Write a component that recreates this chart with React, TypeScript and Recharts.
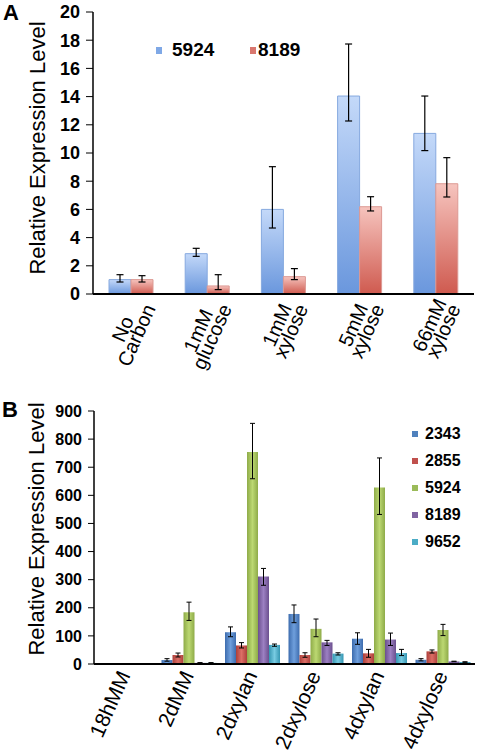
import React from 'react';
import { BarChart, Bar, XAxis, YAxis, ErrorBar, Legend } from 'recharts';

const FONT = '"Liberation Sans", Arial, Helvetica, sans-serif';

// ---- Panel A: two genes across carbon sources ----
const carbonSources = ['No\nCarbon', '1mM\nglucose', '1mM\nxylose', '5mM\nxylose', '66mM\nxylose'];
const a5924 = [1.02, 2.86, 6.0, 14.04, 11.39];
const a5924Low = [0.85, 2.67, 4.68, 12.27, 10.17];
const a5924High = [1.37, 3.24, 9.03, 17.73, 14.04];
const a8189 = [1.02, 0.57, 1.23, 6.19, 7.82];
const a8189Low = [0.85, 0.31, 1.02, 5.89, 6.88];
const a8189High = [1.3, 1.37, 1.8, 6.9, 9.67];
const aTicks = [0, 2, 4, 6, 8, 10, 12, 14, 16, 18, 20];

// ---- Panel B: five genes across time points ----
const timepoints = ['18hMM', '2dMM', '2dxylan', '2dxylose', '4dxylan', '4dxylose'];
const b2343 = [1, 14, 113, 178, 90, 15];
const b2343Low = [1, 10, 97, 147, 70, 11];
const b2343High = [1, 19, 132, 210, 111, 19];
const b2855 = [1, 32, 66, 32, 38, 45];
const b2855Low = [1, 25, 57, 24, 24, 39];
const b2855High = [1, 39, 76, 40, 52, 50];
const b5924 = [1, 184, 754, 125, 628, 121];
const b5924Low = [1, 155, 659, 97, 532, 101];
const b5924High = [1, 220, 856, 160, 733, 141];
const b8189 = [1, 4, 311, 77, 87, 9];
const b8189Low = [1, 3, 280, 66, 66, 8];
const b8189High = [1, 5, 340, 84, 110, 10];
const b9652 = [1, 4, 68, 37, 39, 7];
const b9652Low = [1, 3, 63, 32, 30, 6];
const b9652High = [1, 5, 71, 40, 52, 8];
const bTicks = [0, 100, 200, 300, 400, 500, 600, 700, 800, 900];

const err = (v: number, lo: number, hi: number) => [Math.max(0, v - lo), Math.max(0, hi - v)];

const dataA = carbonSources.map((cat, i) => ({
  cat,
  g5924: a5924[i],
  e5924: err(a5924[i], a5924Low[i], a5924High[i]),
  g8189: a8189[i],
  e8189: err(a8189[i], a8189Low[i], a8189High[i]),
}));

const seriesB = [
  { key: '2343', v: b2343, lo: b2343Low, hi: b2343High, dark: '#3d6cae', light: '#6f9fdc', swatch: '#4f81bd' },
  { key: '2855', v: b2855, lo: b2855Low, hi: b2855High, dark: '#ad3f3a', light: '#dc6e66', swatch: '#c0504d' },
  { key: '5924', v: b5924, lo: b5924Low, hi: b5924High, dark: '#8eab48', light: '#bcd872', swatch: '#9bbb59' },
  { key: '8189', v: b8189, lo: b8189Low, hi: b8189High, dark: '#6b4f8e', light: '#9c80c2', swatch: '#8064a2' },
  { key: '9652', v: b9652, lo: b9652Low, hi: b9652High, dark: '#3596b2', light: '#78cbe2', swatch: '#4bacc6' },
];

const dataB = timepoints.map((cat, i) => {
  const row: Record<string, unknown> = { cat };
  seriesB.forEach((s) => {
    row['g' + s.key] = s.v[i];
    row['e' + s.key] = err(s.v[i], s.lo[i], s.hi[i]);
  });
  return row;
});

let measureCtx: CanvasRenderingContext2D | null = null;
const textWidth = (s: string, size: number) => {
  if (!measureCtx && typeof document !== 'undefined') {
    measureCtx = document.createElement('canvas').getContext('2d');
  }
  if (!measureCtx) return s.length * size * 0.55;
  measureCtx.font = `${size}px "Liberation Sans"`;
  return measureCtx.measureText(s).width;
};

// two-line category labels, lines centred on each other, last line ending under the axis
const TickA = (props: any) => {
  const { x, y, payload } = props;
  const lines = String(payload.value).split('\n');
  const fs = 20;
  const lh = 15;
  const maxW = Math.max(...lines.map((l) => textWidth(l, fs)));
  const n = lines.length;
  return (
    <g transform={`translate(${x + 25},${y + 14}) rotate(-66)`}>
      {lines.map((l, k) => (
        <text key={k} x={-maxW / 2} y={-(n - 1 - k) * lh} textAnchor="middle" fontSize={fs} fontFamily={FONT} fill="#000">
          {l}
        </text>
      ))}
    </g>
  );
};

const TickB = (props: any) => {
  const { x, y, payload } = props;
  return (
    <g transform={`translate(${x + 5},${y + 11}) rotate(-66)`}>
      <text x={0} y={0} textAnchor="end" fontSize={21} fontFamily={FONT} fill="#000">
        {payload.value}
      </text>
    </g>
  );
};

const LegendA = (props: any) => {
  const swatch: Record<string, string> = { g5924: '#7fa8e6', g8189: '#d9776f' };
  const lefts = [156, 250];
  const gaps = [10, 2];
  return (
    <div style={{ position: 'relative', width: 480, height: 24 }}>
      {(props.payload || []).map((p: any, i: number) => (
        <div
          key={p.value}
          style={{ position: 'absolute', left: lefts[i], top: 0, display: 'flex', alignItems: 'center', height: 24 }}
        >
          <span style={{ width: 6, height: 7, background: swatch[p.dataKey], display: 'inline-block', marginRight: gaps[i] }} />
          <span style={{ fontFamily: FONT, fontWeight: 'bold', fontSize: 19, color: '#000' }}>{p.value}</span>
        </div>
      ))}
    </div>
  );
};

const LegendB = (props: any) => {
  const swatch: Record<string, string> = {};
  seriesB.forEach((s) => (swatch['g' + s.key] = s.swatch));
  return (
    <div style={{ width: 60 }}>
      {(props.payload || []).map((p: any) => (
        <div key={p.value} style={{ display: 'flex', alignItems: 'center', height: 27 }}>
          <span style={{ width: 6, height: 6, background: swatch[p.dataKey], display: 'inline-block', marginRight: 7 }} />
          <span style={{ fontFamily: FONT, fontWeight: 'bold', fontSize: 16, color: '#000' }}>{p.value}</span>
        </div>
      ))}
    </div>
  );
};

const frame = { stroke: '#000', strokeWidth: 1.5 };

export default function App() {
  return (
    <div style={{ position: 'absolute', left: 0, top: 0, width: 480, height: 755, background: '#fff', fontFamily: FONT }}>
      <div style={{ position: 'absolute', left: 3, top: 0, fontWeight: 'bold', fontSize: 22 }}>A</div>
      <div style={{ position: 'absolute', left: 2, top: 397, fontWeight: 'bold', fontSize: 22 }}>B</div>

      <div style={{ position: 'absolute', left: 0, top: 0 }}>
        <BarChart width={480} height={380} data={dataA} margin={{ top: 12, right: 6, bottom: 0, left: 0 }} barGap={0} barSize={22}>
          <defs>
            <linearGradient id="gradA1" x1="0" y1="0" x2="0" y2="1">
              <stop offset="0%" stopColor="#c4d9f9" />
              <stop offset="100%" stopColor="#6a97dd" />
            </linearGradient>
            <linearGradient id="gradA2" x1="0" y1="0" x2="0" y2="1">
              <stop offset="0%" stopColor="#f6c4be" />
              <stop offset="100%" stopColor="#cf5a4f" />
            </linearGradient>
          </defs>
          <text x={37} y={148} transform="rotate(-90 37 148)" textAnchor="middle" dominantBaseline="central" fontSize={22} fontFamily={FONT} fill="#000">
            Relative Expression Level
          </text>
          <XAxis dataKey="cat" height={86} interval={0} tickLine={false} tickSize={0} tickMargin={0} tick={<TickA />} axisLine={{ stroke: '#000', strokeWidth: 2 }} />
          <XAxis xAxisId="top" dataKey="cat" orientation="top" height={0} tick={false} tickLine={false} axisLine={frame} />
          <YAxis
            width={93}
            domain={[0, 20]}
            ticks={aTicks}
            interval={0}
            tickSize={7}
            tickMargin={6}
            tickLine={{ stroke: '#000' }}
            axisLine={frame}
            tick={{ fontSize: 18, fontWeight: 'bold', fill: '#000', fontFamily: FONT }}
          />
          <YAxis yAxisId="right" orientation="right" width={0} domain={[0, 20]} tick={false} tickLine={false} axisLine={frame} />
          <Legend
            layout="horizontal"
            align="center"
            verticalAlign="middle"
            content={<LegendA />}
            wrapperStyle={{ position: 'absolute', left: 0, top: 38, width: 480 }}
          />
          <Bar dataKey="g5924" name="5924" fill="url(#gradA1)" stroke="#86a9df" strokeWidth={1} isAnimationActive={false}>
            <ErrorBar dataKey="e5924" width={3.5} stroke="#000" strokeWidth={1.2} isAnimationActive={false} />
          </Bar>
          <Bar dataKey="g8189" name="8189" fill="url(#gradA2)" stroke="#dc9993" strokeWidth={1} isAnimationActive={false}>
            <ErrorBar dataKey="e8189" width={3.5} stroke="#000" strokeWidth={1.2} isAnimationActive={false} />
          </Bar>
        </BarChart>
      </div>

      <div style={{ position: 'absolute', left: 0, top: 380 }}>
        <BarChart width={480} height={375} data={dataB} margin={{ top: 31, right: 5, bottom: 0, left: 0 }} barGap={0} barSize={11}>
          <defs>
            {seriesB.map((s) => (
              <linearGradient key={s.key} id={'gradB' + s.key} x1="0" y1="0" x2="1" y2="0">
                <stop offset="0%" stopColor={s.dark} />
                <stop offset="50%" stopColor={s.light} />
                <stop offset="100%" stopColor={s.dark} />
              </linearGradient>
            ))}
          </defs>
          <text x={36} y={149} transform="rotate(-90 36 149)" textAnchor="middle" dominantBaseline="central" fontSize={22} fontFamily={FONT} fill="#000">
            Relative Expression Level
          </text>
          <XAxis dataKey="cat" height={91} interval={0} tickLine={false} tickSize={0} tickMargin={0} tick={<TickB />} axisLine={{ stroke: '#000', strokeWidth: 2 }} />
          <XAxis xAxisId="top" dataKey="cat" orientation="top" height={0} tick={false} tickLine={false} axisLine={frame} />
          <YAxis
            width={94}
            domain={[0, 900]}
            ticks={bTicks}
            interval={0}
            tickSize={6}
            tickMargin={6}
            tickLine={{ stroke: '#000' }}
            axisLine={frame}
            tick={{ fontSize: 16, fontWeight: 'bold', fill: '#000', fontFamily: FONT }}
          />
          <YAxis yAxisId="right" orientation="right" width={0} domain={[0, 900]} tick={false} tickLine={false} axisLine={frame} />
          <Legend
            layout="horizontal"
            align="center"
            verticalAlign="middle"
            content={<LegendB />}
            wrapperStyle={{ position: 'absolute', left: 412, top: 40, width: 60 }}
          />
          {seriesB.map((s) => (
            <Bar key={s.key} dataKey={'g' + s.key} name={s.key} fill={`url(#gradB${s.key})`} isAnimationActive={false}>
              <ErrorBar dataKey={'e' + s.key} width={2.5} stroke="#000" strokeWidth={1} isAnimationActive={false} />
            </Bar>
          ))}
        </BarChart>
      </div>
    </div>
  );
}
